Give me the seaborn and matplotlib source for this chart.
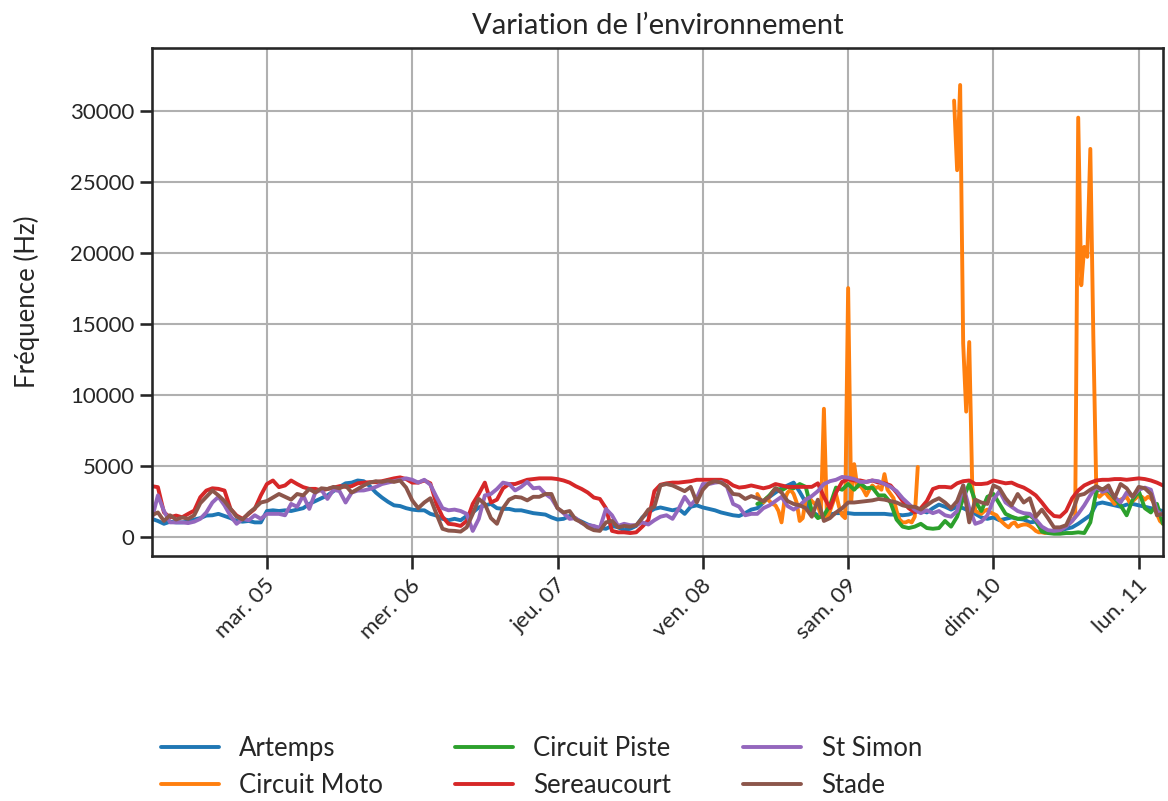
import pandas as pd
import matplotlib.pyplot as plt
import matplotlib.dates as mdates
import matplotlib.transforms as mtransforms
from matplotlib.ticker import FuncFormatter
import seaborn as sns

# Stations, dans l'ordre de la légende
stations = ["Artemps", "Circuit Moto", "Circuit Piste", "Sereaucourt", "St Simon", "Stade"]
jours = ["lun.", "mar.", "mer.", "jeu.", "ven.", "sam.", "dim."]

# mesures horaires depuis le 04/03 05:00
debut = "2024-03-04 05:00"
artemps = [
    1250, 1100, 900, 1050, 1000, 1000, 1050, 1200, 1300, 1480, 1500, 1600, 1450, 1300, 1100, 1050, 1100,
    1000, 1000, 1800, 1850, 1800, 1850, 1800, 1900, 2000, 2300, 2500, 2700, 2900, 3200, 3500, 3750, 3800,
    3950, 3900, 3550, 3100, 2750, 2450, 2200, 2150, 2000, 1900, 1850, 1850, 1600, 1480, 1250, 1150, 1250,
    1150, 1450, 1700, 2050, 2200, 2300, 2000, 1950, 1950, 1850, 1850, 1750, 1650, 1600, 1550, 1350,
    1200, 1250, 1450, 1250, 1050, 850, 700, 600, 550, 750, 650, 450, 550, 750, 1350, 1700, 1950,
    2050, 1950, 1850, 1950, 1600, 2100, 2200, 2050, 1950, 1850, 1700, 1600, 1500, 1450, 1650, 1900,
    2000, 2400, 2800, 3100, 3400, 3600, 3800, 3150, 2400, 1750, 1500, 1450, 1550, 1650, 1650, 1650, 1600,
    1600, 1600, 1600, 1600, 1600, 1550, 1550, 1500, 1550, 1700, 1850, 1700, 2000, 2250, 2100, 1900,
    2100, 2000, 1800, 1600, 1350, 1250, 1350, 1150, 1250, 1350, 1250, 1200, 1000, 1050, 450, 300, 300,
    400, 550, 650, 900, 1200, 1500, 2300, 2400, 2300, 2200, 2100, 2250, 2300, 2200, 2100, 2000, 1900, 1800,
]
sereaucourt = [
    3550, 3480, 1700, 1360, 1480, 1360, 1600, 1830, 2770, 3240, 3400, 3360, 3240, 1950, 1480, 1250, 1600,
    1950, 2900, 3700, 3950, 3480, 3600, 3950, 3700, 3480, 3360, 3360, 3240, 3350, 3450, 3550, 3500, 3550,
    3750, 3800, 3830, 3830, 3900, 4000, 4100, 4170, 4050, 3800, 3800, 3950, 3750, 2300, 1400, 900, 850,
    750, 1100, 2300, 3000, 3800, 2400, 2600, 3400, 3700, 3700, 3850, 4000, 4050, 4100, 4100, 4100,
    4050, 3950, 3800, 3550, 3350, 3100, 2750, 2650, 2000, 400, 300, 300, 250, 300, 700, 1150, 3200,
    3650, 3750, 3800, 3800, 3850, 3900, 4000, 4000, 4000, 4000, 4000, 3900, 3600, 3450, 3500, 3600,
    3500, 3400, 3500, 3700, 3600, 3500, 3500, 3500, 3500, 3500, 3750, 2800, 2000, 3100, 3850, 4050, 3950,
    3950, 3850, 3950, 3800, 3750, 3600, 3100, 2500, 2000, 1700, 2000, 2500, 3350, 3500, 3500, 3450,
    3750, 3900, 3950, 3700, 3700, 3750, 3950, 3850, 3750, 3800, 3600, 3450, 3200, 2900, 2400, 1850, 1450,
    1400, 1800, 2700, 3250, 3600, 3800, 3950, 4000, 4000, 4050, 4050, 4000, 4050, 4100, 4050, 3950, 3800, 3600,
]
st_simon = [
    1250, 2900, 1800, 1000, 1000, 1000, 950, 1050, 1250, 1700, 2400, 2800, 2200, 1450, 900, 1250, 1150,
    1500, 1250, 1600, 1600, 1600, 1500, 2300, 2100, 2900, 1950, 3100, 3300, 2650, 3300, 3200, 2400, 3100,
    3240, 3250, 3350, 3500, 3700, 3800, 3900, 4000, 4100, 4000, 3800, 4000, 3650, 2800, 2000, 1850, 1900,
    1800, 1600, 400, 1250, 2900, 3000, 3350, 3800, 3700, 3250, 3500, 3850, 3400, 3450, 3000, 2700,
    2000, 1650, 1250, 1300, 950, 800, 750, 600, 1950, 1500, 750, 900, 800, 800, 1000, 850, 1150,
    1400, 1500, 1250, 1950, 2800, 2200, 2700, 3700, 3700, 3800, 3850, 3500, 2300, 2100, 1500, 1600,
    1600, 2000, 2200, 2500, 2800, 2150, 1900, 2200, 2600, 2850, 3200, 3700, 3900, 4000, 4200, 4150, 4050,
    3850, 3850, 3950, 3900, 3700, 3500, 3200, 2700, 2300, 1900, 1650, 1850, 1650, 1800, 1500, 1400,
    1800, 3600, 2000, 900, 1050, 1500, 2600, 3200, 2400, 2100, 1800, 1650, 1600, 1200, 700, 450, 400,
    450, 700, 1100, 1600, 2200, 2900, 3500, 3150, 3300, 2800, 2400, 3100, 2800, 3300, 3450, 3300, 1800, 1500,
]
stade = [
    1500, 1700, 1100, 1500, 1200, 1350, 1250, 1500, 2350, 2800, 3240, 2900, 2500, 1950, 1400, 1200, 1650,
    2000, 2400, 2500, 2750, 3000, 2800, 2600, 3000, 2900, 3350, 3100, 3400, 3350, 3500, 3400, 3600, 3100,
    3350, 3600, 3800, 3900, 3850, 3950, 3850, 3950, 3450, 2550, 2000, 2400, 2700, 1600, 550, 420, 400,
    350, 650, 1600, 2650, 2300, 1300, 900, 2000, 2600, 2800, 2750, 2550, 2800, 2800, 3000, 3000,
    2000, 1700, 1800, 1200, 1000, 650, 450, 400, 1000, 1100, 650, 750, 700, 800, 1300, 1900, 2100,
    3600, 3700, 3600, 3400, 3200, 3500, 2400, 3300, 3750, 3900, 3800, 3550, 3000, 2950, 2650, 2850,
    2700, 2500, 2800, 3400, 3100, 2500, 2300, 2200, 2000, 1400, 2600, 1100, 1300, 1700, 2000, 2400, 2400,
    2450, 2500, 2550, 2650, 2600, 2500, 2400, 2200, 2100, 2100, 1900, 2200, 2500, 2700, 2400, 2000,
    2500, 3600, 1000, 2600, 2400, 2300, 3600, 3400, 2700, 2200, 3000, 2400, 2700, 1400, 1900, 1300, 650,
    650, 800, 1700, 2900, 3000, 3300, 3550, 3300, 3600, 2700, 3700, 3400, 2800, 3500, 3400, 3000, 1500, 1600,
]

# les deux circuits ne démarrent que le 08/03 à 09:00
debut_circuits = "2024-03-08 09:00"
circuit_piste = [
    2300, 2500, 2900, 3400, 3250, 3500, 3400, 3700, 3500, 1800, 1300, 1500, 2200, 3450, 3300, 3700, 3300,
    3750, 3400, 3450, 2900, 2900, 2400, 1200, 700, 600, 700, 900, 600, 550, 600, 1100, 700,
    1400, 2700, 3700, 2500, 1800, 2800, 3000, 2300, 1600, 1400, 1250, 1300, 1500, 1150, 350, 250, 200,
    200, 250, 250, 300, 250, 1000, 3200, 3350, 3200, 2700, 2200, 1500, 2600, 3200, 2000, 1700, 2300, 900,
]
# Circuit Moto : pas de 30 min, trou de données le 09/03
nan = float("nan")
circuit_moto = [
    3000, 2600, 2400, 2700, 2500, 2300, 2200, 1800, 1000, 2600,
    3100, 3300, 3000, 2400, 1100, 1300, 2600, 2800, 2500, 2300,
    2200, 1500, 9000, 1300, 1800, 2400, 3000, 2100, 1500, 1300,
    17500, 2500, 5100, 3500, 3600, 3300, 2900, 3300, 3600, 3400,
    3500, 3300, 4400, 3300, 3000, 2700, 1800, 1200, 1000, 1000,
    1100, 1000, 1400, 4900, nan, nan, nan, nan, nan, nan,
    nan, nan, nan, nan, nan, 30700, 25800, 31800, 13600, 8800,
    13700, 3500, 1800, 1700, 1600, 1800, 1900, 1700, 1600, 1500,
    1200, 1000, 800, 650, 900, 1000, 700, 800, 850, 850,
    750, 600, 400, 300, 300, 250, 300, 300, 350, 300,
    450, 600, 800, 900, 1100, 1400, 29500, 17700, 20400, 19700,
    27300, 14000, 3000, 2800, 3000, 3100, 2800, 2600, 2300, 2500,
    2600, 2700, 2800, 2400, 2500, 2700, 2900, 2800, 2600, 2800,
    2700, 2400, 1600, 1100, 900,
]

series = [
    ("Artemps", pd.date_range(debut, periods=len(artemps), freq="h"), artemps),
    ("Circuit Moto", pd.date_range(debut_circuits, periods=len(circuit_moto), freq="30min"), circuit_moto),
    ("Circuit Piste", pd.date_range(debut_circuits, periods=len(circuit_piste), freq="h"), circuit_piste),
    ("Sereaucourt", pd.date_range(debut, periods=len(sereaucourt), freq="h"), sereaucourt),
    ("St Simon", pd.date_range(debut, periods=len(st_simon), freq="h"), st_simon),
    ("Stade", pd.date_range(debut, periods=len(stade), freq="h"), stade),
]

frames = []
for nom, dates, valeurs in series:
    d = pd.DataFrame({"date": dates, "freq": valeurs, "station": nom})
    # un segment par morceau continu, pour ne pas relier les trous
    d["segment"] = nom + d["freq"].isna().cumsum().astype(str)
    frames.append(d.dropna())
df = pd.concat(frames, ignore_index=True)

sns.set_theme(context="talk", style="ticks")
plt.rcParams["font.family"] = ["Lato", "DejaVu Sans"]

fig, ax = plt.subplots(figsize=(11.68, 8.01), dpi=100)
fig.subplots_adjust(left=0.130, right=0.9957, top=0.940, bottom=0.306)

sns.lineplot(data=df, x="date", y="freq", hue="station", hue_order=stations,
             units="segment", estimator=None, palette="tab10", linewidth=2.8, ax=ax)

ax.grid(True, color="#b0b0b0", linewidth=1.5)
ax.set_xlim(df["date"].min(), df["date"].max())
ax.set_ylim(-1360, 34400)

ax.xaxis.set_major_locator(mdates.DayLocator())
ax.xaxis.set_major_formatter(FuncFormatter(
    lambda v, pos: f"{jours[mdates.num2date(v).weekday()]} {mdates.num2date(v).day:02d}"))
ax.tick_params(labelsize=16)
ax.tick_params(axis="x", labelrotation=45)

ax.set_xlabel("")
ax.set_ylabel("Fréquence (Hz)", fontsize=18.5, labelpad=22)
ax.set_title("Variation de l’environnement", fontsize=21, pad=10)

ax.legend(loc="upper left", bbox_to_anchor=(-0.014, -0.31), ncol=3, frameon=False,
          fontsize=18.5, handlelength=2.25, handletextpad=0.8, columnspacing=2.8,
          labelspacing=0.45)

# étiquettes calées à droite du tick, un peu décalées
fig.canvas.draw()
decalage = mtransforms.ScaledTranslation(0.12, -0.02, fig.dpi_scale_trans)
for lab in ax.get_xticklabels():
    lab.set_horizontalalignment("right")
    lab.set_transform(lab.get_transform() + decalage)

fig.savefig("out.png", dpi=100)
